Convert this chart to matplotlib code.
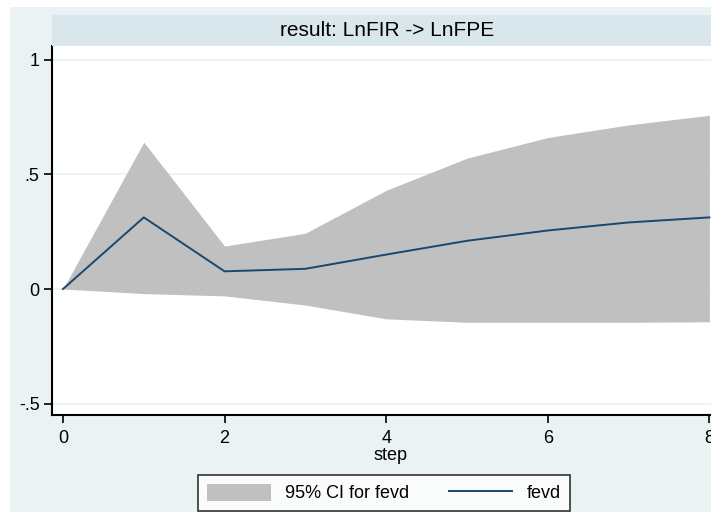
import matplotlib

matplotlib.use("Agg")

import matplotlib.pyplot as plt
from matplotlib.patches import Patch, Rectangle
from matplotlib.lines import Line2D

plt.rcParams["font.family"] = ["Liberation Sans Narrow", "Liberation Sans", "DejaVu Sans"]

# forecast-error variance decomposition, impulse LnFIR, response LnFPE
steps = [0, 1, 2, 3, 4, 5, 6, 7, 8]
fevd = [0.0, 0.312, 0.077, 0.088, 0.150, 0.210, 0.255, 0.290, 0.312]
ci_upper = [0.0, 0.640, 0.187, 0.243, 0.430, 0.570, 0.660, 0.715, 0.757]
ci_lower = [0.0, -0.020, -0.030, -0.070, -0.130, -0.145, -0.145, -0.145, -0.143]

yticks = [-0.5, 0, 0.5, 1]
ytick_labels = ["-.5", "0", ".5", "1"]
xticks = [0, 2, 4, 6, 8]

BG = "#EAF2F3"
TITLE_BG = "#D9E6EB"
CI_GRAY = "#C0C0C0"
NAVY = "#1A476F"

W, H = 711, 512
fig = plt.figure(figsize=(W / 100, H / 100), dpi=100)
fig.patch.set_facecolor("white")
fig.patches.append(
    Rectangle((10 / W, 0), 1, 1 - 7 / H, transform=fig.transFigure,
              facecolor=BG, edgecolor="none", zorder=-10)
)

# plot region runs past the right edge of the canvas
left, right, top, bottom = 52, 730, 46, 415
ax = fig.add_axes([left / W, 1 - bottom / H, (right - left) / W, (bottom - top) / H])
ax.set_facecolor("white")

x0_px, px_per_step = 63, 80.8
ax.set_xlim((left - x0_px) / px_per_step, (right - x0_px) / px_per_step)
y0_px, px_per_unit = 289, 229.5
ax.set_ylim(-(bottom - y0_px) / px_per_unit, (y0_px - top) / px_per_unit)

for yv in yticks:
    ax.axhline(yv, color=BG, lw=1.2, zorder=0)

ax.fill_between(steps, ci_lower, ci_upper, color=CI_GRAY, lw=0, zorder=1)
ax.plot(steps, fevd, color=NAVY, lw=1.4, zorder=2)

ax.set_yticks(yticks)
ax.set_yticklabels(ytick_labels)
ax.set_xticks(xticks)
ax.tick_params(axis="both", direction="out", length=6, width=1.2,
               labelsize=13, color="black", pad=3)
ax.tick_params(axis="x", pad=5)
for side in ("top", "right"):
    ax.spines[side].set_visible(False)
for side in ("left", "bottom"):
    ax.spines[side].set_linewidth(1.5)
ax.set_xlabel("step", fontsize=13, labelpad=0)

# title band above the plot region
fig.patches.append(
    Rectangle((left / W, 1 - top / H), 1, (top - 15) / H, transform=fig.transFigure,
              facecolor=TITLE_BG, edgecolor="none")
)
fig.text(387 / W, 1 - 30 / H, "result: LnFIR -> LnFPE", ha="center", va="center",
         fontsize=15)

handles = [
    Patch(facecolor=CI_GRAY, edgecolor="none"),
    Line2D([], [], color=NAVY, lw=1.4),
]
leg = fig.legend(handles, ["95% CI for fevd", "fevd"], loc="center",
                 bbox_to_anchor=(384 / W, 1 - 493 / H), ncol=2, frameon=True,
                 fancybox=False, fontsize=13, handlelength=3.5, handleheight=1.1,
                 columnspacing=2.2, handletextpad=0.8, borderpad=0.5,
                 borderaxespad=0)
leg.get_frame().set_edgecolor("black")
leg.get_frame().set_linewidth(1.2)

fig.savefig("out.png", dpi=100)
